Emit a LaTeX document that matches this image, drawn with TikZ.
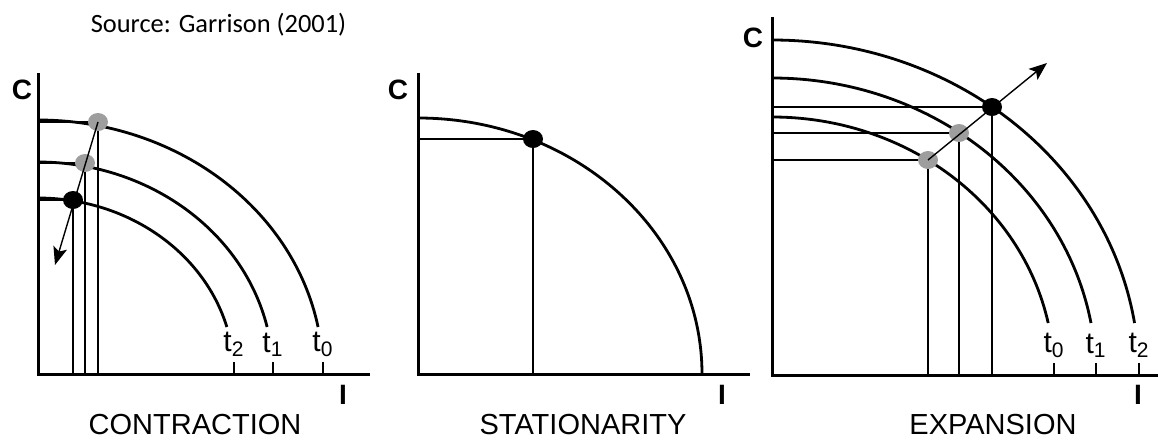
\documentclass[tikz,border=0pt]{standalone}
\usepackage{fontspec}
\setmainfont{Liberation Sans}
\newfontfamily\srcfont{Carlito}
\usetikzlibrary{shapes.geometric,arrows.meta}

\tikzset{
  axis/.style={line width=1.5pt},
  ppf/.style={line width=1.4pt},
  guide/.style={line width=.8pt},
  tick/.style={line width=1.4pt},
  dot/.style={ellipse,inner sep=0pt,minimum width=10pt,minimum height=9pt},
  greydot/.style={dot,fill=black!38},
  blackdot/.style={dot,fill=black},
  trend/.style={line width=.7pt,-{Stealth[length=9pt,width=7pt,inset=2pt]}},
  axlab/.style={inner sep=0pt,font=\fontsize{14}{16}\selectfont\bfseries},
  tlab/.style={above=2pt,inner sep=0pt,font=\fontsize{15}{17}\selectfont},
  title/.style={inner sep=0pt,font=\fontsize{14.5}{17}\selectfont},
  source/.style={inner sep=0pt,font=\srcfont\fontsize{13.2}{15}\selectfont}
}

\begin{document}
\begin{tikzpicture}[x=.5pt,y=.5pt]
  \useasboundingbox (0,0) rectangle (1158,441);
  \node[source] (src) at (218.5,416) {Source: Garrison (2001)};

  % contraction
  \begin{scope}[shift={(38,67)}]
    \coordinate (o1) at (0,0);
    \draw[axis] (0,301) -- (o1) -- (332,0);
    \foreach \a/\b/\t in {285/254/0,235/212/1,196/176/2}{
      \pgfmathsetmacro\e{asin(47/\b)}
      \draw[ppf] (0,\b) arc[start angle=90,end angle=\e,x radius=\a,y radius=\b];
      \draw[tick] (\a,0) -- (\a,12) node[tlab] (ct\t) {t\textsubscript{\t}};
    }
    \node[greydot] (c0) at (60,252) {};
    \node[greydot] (c1) at (47,211) {};
    \node[blackdot] (c2) at (35,174) {};
    \coordinate (ctip) at (17,109);
    \foreach \p in {c0,c1,c2}
      \draw[guide] (\p -| o1) -- (\p) -- (\p |- o1);
    \draw[trend] (c0.center) -- (ctip);
    \node[axlab] (cC) at (-16,284) {C};
    \node[axlab] (cI) at (305,-21) {I};
    \node[title] (ctitle) at (157,-51) {CONTRACTION};
  \end{scope}

  % stationarity
  \begin{scope}[shift={(418,67)}]
    \coordinate (o2) at (0,0);
    \draw[axis] (0,301) -- (o2) -- (332,0);
    \draw[ppf] (0,256) arc[start angle=90,end angle=0,x radius=284,y radius=256];
    \node[blackdot] (s0) at (115,235) {};
    \draw[guide] (s0 -| o2) -- (s0) -- (s0 |- o2);
    \node[axlab] (sC) at (-20,284) {C};
    \node[axlab] (sI) at (304,-21) {I};
    \node[title] (stitle) at (165,-51) {STATIONARITY};
  \end{scope}

  % expansion
  \begin{scope}[shift={(772,66)}]
    \coordinate (o3) at (0,0);
    \draw[axis] (0,358) -- (o3) -- (386,0);
    \foreach \a/\b/\t in {282/258/0,324/297/1,367/335/2}{
      \pgfmathsetmacro\e{asin(52/\b)}
      \draw[ppf] (0,\b) arc[start angle=90,end angle=\e,x radius=\a,y radius=\b];
      \draw[tick] (\a,0) -- (\a,12) node[tlab] (et\t) {t\textsubscript{\t}};
    }
    \node[greydot] (e0) at (156,215) {};
    \node[greydot] (e1) at (187,242) {};
    \node[blackdot] (e2) at (220,268) {};
    \coordinate (etip) at (275,312);
    \foreach \p in {e0,e1,e2}
      \draw[guide] (\p -| o3) -- (\p) -- (\p |- o3);
    \draw[trend] (e0.center) -- (etip);
    \node[axlab] (eC) at (-19,337) {C};
    \node[axlab] (eI) at (366,-20) {I};
    \node[title] (etitle) at (221,-50) {EXPANSION};
  \end{scope}
\end{tikzpicture}
\end{document}
